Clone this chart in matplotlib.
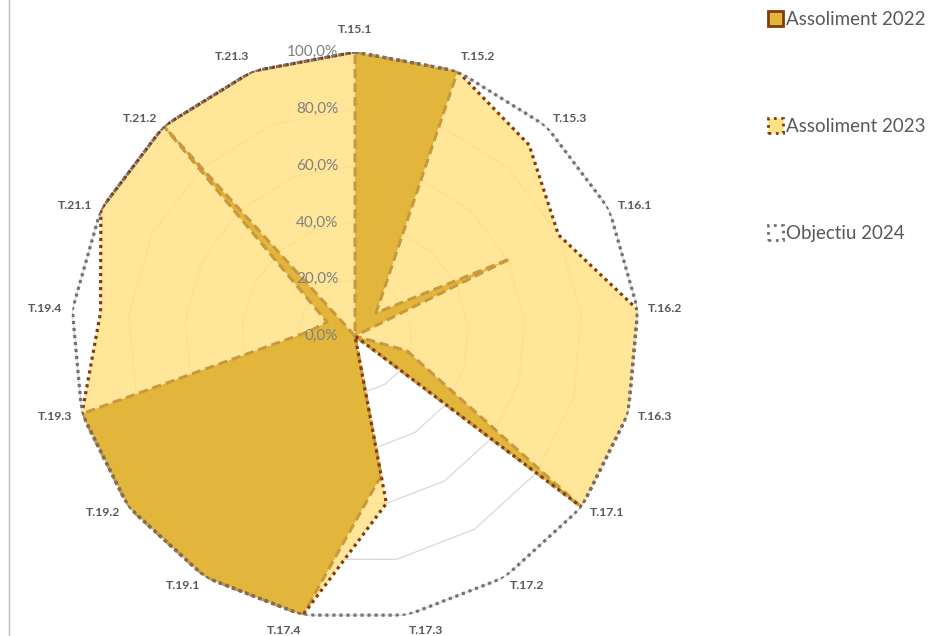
import numpy as np
import matplotlib
matplotlib.use("Agg")
import matplotlib.pyplot as plt
from matplotlib.patches import Patch
from matplotlib.lines import Line2D

plt.rcParams["font.family"] = ["Lato", "DejaVu Sans"]

# ── data ───────────────────────────────────────────────
categories = ["T.15.1", "T.15.2", "T.15.3", "T.16.1", "T.16.2", "T.16.3",
              "T.17.1", "T.17.2", "T.17.3", "T.17.4", "T.19.1", "T.19.2",
              "T.19.3", "T.19.4", "T.21.1", "T.21.2", "T.21.3"]
assoliment_2022 = [100, 100, 11, 61, 0, 19, 100, 0, 50, 100, 100, 100, 100, 16.5, 11, 100, 0]
assoliment_2023 = [100, 100, 91, 80, 100, 100, 100, 0, 60, 100, 100, 100, 100, 90, 100, 100, 100]
objectiu_2024 = [100] * 17
rings = [0, 20, 40, 60, 80, 100]
ring_labels = ["0,0%", "20,0%", "40,0%", "60,0%", "80,0%", "100,0%"]

GOLD = "#E2B53B"
LIGHT = "#FFE287"
TAN = "#C9983F"
BROWN = "#843C0C"
GREY = "#767171"
TEXT = "#595959"

n = len(categories)
theta = np.linspace(0, 2 * np.pi, n, endpoint=False)
theta_c = np.append(theta, theta[0])


def closed(vals):
    return np.append(vals, vals[0])


fig = plt.figure(figsize=(9.42, 6.36), dpi=100)
ax = fig.add_axes([0.0754, 0.0252, 0.603, 0.893], projection="polar")
ax.set_theta_zero_location("N")
ax.set_theta_direction(-1)
ax.set_ylim(0, 100)
ax.grid(False)
ax.spines["polar"].set_visible(False)
ax.set_yticks([])
ax.set_xticks([])

# polygon grid rings
for r in rings[1:]:
    ax.plot(theta_c, [r] * (n + 1), color="#D9D9D9", lw=0.9, zorder=1)

# series
ax.fill(theta_c, closed(assoliment_2023), color=LIGHT, alpha=0.85, lw=0, zorder=2)
ax.fill(theta_c, closed(assoliment_2022), color=GOLD, lw=0, zorder=3)
ax.plot(theta_c, closed(assoliment_2022), color=TAN, lw=2.2,
        linestyle=(0, (3, 1.6)), zorder=4)
ax.plot(theta_c, closed(assoliment_2023), color=BROWN, lw=2.3,
        linestyle=(0, (1, 1.2)), zorder=5)
ax.plot(theta_c, closed(objectiu_2024), color=GREY, lw=2.3,
        linestyle=(0, (1, 1.2)), zorder=6)

# radial labels
for r, lab in zip(rings, ring_labels):
    ax.annotate(lab, xy=(0, r), xytext=(-12, 0), textcoords="offset points",
                ha="right", va="center", fontsize=11, color="#808080", zorder=7)

# category labels next to each spoke end
for t, lab in zip(theta, categories):
    s, c = np.sin(t), np.cos(t)
    ha = "left" if s > 0.05 else ("right" if s < -0.05 else "center")
    va = "bottom" if c > 0.9 else ("top" if c < -0.9 else "center")
    d = 12 if abs(s) < 0.05 else 7
    ax.annotate(lab, xy=(t, 100), xytext=(d * s, d * c), textcoords="offset points",
                ha=ha, va=va, fontsize=8.8, fontweight="bold", color=TEXT,
                annotation_clip=False)

handles = [
    Patch(facecolor=GOLD, edgecolor=BROWN, lw=2, label="Assoliment 2022"),
    Patch(facecolor=LIGHT, edgecolor=BROWN, lw=2, linestyle=":", label="Assoliment 2023"),
    Patch(facecolor="white", edgecolor=GREY, lw=2, linestyle=":", label="Objectiu 2024"),
]
fig.legend(handles=handles, loc="upper left", bbox_to_anchor=(0.797, 1.009),
           frameon=False, fontsize=13.5, labelcolor=TEXT, labelspacing=4.8,
           handlelength=0.8, handleheight=0.8, handletextpad=0.2)

fig.add_artist(Line2D([0.0096, 0.0096], [0, 1], transform=fig.transFigure,
                      color="#BFBFBF", lw=1))

fig.savefig("out.png", dpi=100)
